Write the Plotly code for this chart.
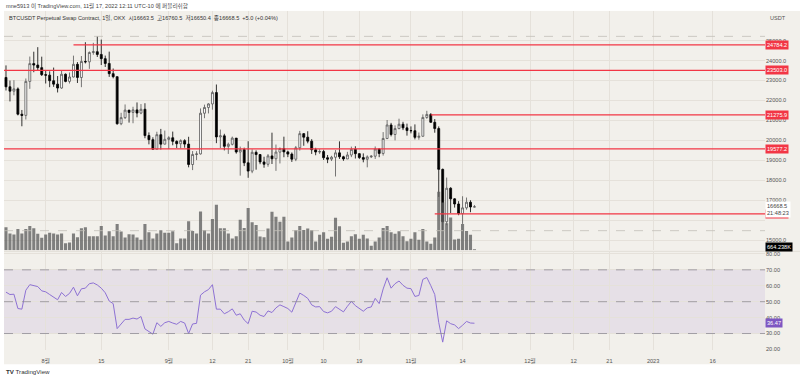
import plotly.graph_objects as go
import pandas as pd

# ---------------- data ----------------
dates = pd.date_range("2022-07-22", periods=119, freq="D")

opens = [23152,22684,22465,22579,21311,21252,22953,23846,23774,23644,
         23293,23269,22988,22818,22622,23312,22954,23175,23810,23150,
         23954,23934,24403,24442,24305,24094,23854,23342,23191,20834,
         21140,21516,21400,21528,21368,21559,20241,20037,19555,20285,
         19812,20050,20131,19951,19832,19986,19813,18790,19293,19320,
         21360,21649,21826,22395,20173,20226,19701,19803,20113,19416,
         19537,18875,18461,19401,19289,18920,18803,19222,19080,19413,
         19592,19423,19311,19057,19630,20337,20158,19961,19530,19417,
         19439,19131,19060,19155,19375,19177,19068,19268,19550,19334,
         19139,19053,19172,19208,19567,19345,20095,20771,20295,20591,
         20809,20627,20491,20483,20151,20207,21148,21299,20905,20591,
         18547,15922,17601,17070,16813,16330,16619,16900,16663.5]
highs = [23756,22996,23014,22655,21523,23100,24200,24443,24670,24194,
         23509,23459,23647,23223,23475,23354,23400,24245,23922,24226,
         24918,24456,24888,25211,25050,24247,24446,23600,23202,21382,
         21800,21522,21684,21900,21819,21860,20399,20156,20433,20575,
         20490,20208,20440,19999,20055,20058,20180,19464,19458,21600,
         21791,21860,22488,22799,20541,20330,19888,20189,20113,19689,
         19634,19956,19550,19500,19316,19180,19315,20385,19790,19645,
         20185,19484,19395,19719,20475,20365,20456,20062,19627,19558,
         19525,19268,19225,19513,19951,19228,19425,19687,19706,19360,
         19347,19250,19257,19695,19601,20415,21020,20877,20750,21085,
         20931,20840,20700,20800,20393,21302,21480,21365,21069,20700,
         18587,18136,17655,17099,16954,17200,17135,17000,16760.5]
lows = [22500,21950,22258,21250,20706,21045,22582,23414,23500,23225,
        22850,22664,22681,22400,22587,22910,22850,23155,22875,22665,
        23853,23583,24291,24179,23775,23676,23180,23107,20783,20761,
        21069,20890,20857,21153,21310,20107,19800,19520,19550,19540,
        19797,19565,19754,19618,19600,19633,18650,18510,19012,19291,
        21111,21350,21538,19860,19617,19497,19320,19748,19335,18232,
        18711,18125,18356,18531,18805,18629,18680,18816,18471,18843,
        19155,19160,18920,18959,19490,19730,19853,19320,19255,19320,
        19020,18860,18965,18190,19070,18975,19063,19161,19091,19069,
        18900,18650,19115,19070,19157,19237,20061,20200,20000,20556,
        20514,20237,20350,20048,20032,20180,21080,20880,20384,17166,
        15476,15754,16361,16631,16250,15815,16527,16400,16650.4]
closes = [22684,22465,22579,21311,21252,22953,23846,23774,23644,23293,
          23269,22988,22818,22622,23312,22954,23175,23810,23150,23954,
          23934,24403,24442,24305,24094,23854,23342,23191,20834,21140,
          21516,21400,21528,21368,21559,20241,20037,19555,20285,19812,
          20050,20131,19951,19832,19986,19813,18790,19293,19320,21360,
          21649,21826,22395,20173,20226,19701,19803,20113,19416,19537,
          18875,18461,19401,19289,18920,18803,19222,19080,19413,19592,
          19423,19311,19057,19630,20337,20158,19961,19530,19417,19439,
          19131,19060,19155,19375,19177,19068,19268,19550,19334,19139,
          19053,19172,19208,19567,19345,20095,20771,20295,20591,20809,
          20627,20491,20483,20151,20207,21148,21299,20905,20591,18547,
          15922,17601,17070,16813,16330,16619,16900,16663,16668.5]
volumes_k = [15150,11050,10400,14100,11050,14100,16050,14500,10850,8250,
             10400,11500,11050,10400,11050,4750,5200,11050,8650,14500,
             15150,9300,9300,9300,16050,9750,12550,9300,17350,12350,
             8450,10600,10400,8450,6950,17350,11900,7800,11050,13200,
             11500,11500,12550,4750,7800,7800,19050,12800,11050,25550,
             13450,11050,20600,29900,14500,14500,11050,7800,9300,20150,
             14750,27750,18400,16700,9100,8650,14300,25350,22100,18850,
             22100,5850,8450,13450,16050,13450,14300,13450,5850,10200,
             11900,7600,8900,21450,15800,5000,5850,9300,10600,7600,
             10200,7800,3050,5850,8450,14750,16050,11900,10850,12550,
             9300,6050,7600,11900,6950,14100,5850,4350,8450,38550,
             31400,17750,21650,7150,7600,17350,12800,10200,664.238]
rsi = [56.0,54.5,54.7,45.7,45.3,57.2,60.7,60.3,59.5,56.8,
       56.2,54.5,52.9,51.2,55.8,53.3,55.2,59.1,53.7,58.1,
       58.5,61.3,61.8,60.5,58.5,55.6,50.4,48.8,33.1,36.0,
       38.9,38.9,39.7,39.1,40.7,32.9,31.4,29.6,36.8,34.5,
       36.8,37.6,36.6,35.8,37.6,36.6,30.0,36.0,36.4,54.1,
       56.2,57.6,60.7,45.3,45.3,42.4,43.7,45.5,41.5,42.4,
       38.5,36.2,44.0,43.5,41.5,40.7,44.2,43.2,46.1,48.0,
       46.9,45.7,43.4,49.6,55.4,53.9,52.1,48.0,46.7,46.9,
       43.8,43.0,44.0,46.9,45.3,43.6,47.1,50.2,47.5,45.5,
       44.0,46.1,46.7,52.1,48.8,58.0,65.0,58.5,61.3,63.0,
       60.3,58.5,58.2,53.3,53.9,64.0,65.2,60.1,54.5,37.0,
       24.6,38.0,36.2,35.4,33.1,35.2,37.6,36.6,36.47]

# drawn horizontal levels: (price, start date or None for full width)
level_prices = [24784.2, 23503.0, 21275.9, 19577.2, 16315.0]
level_starts = ["2022-08-08", None, "2022-11-06", None, "2022-11-07"]
dashed_levels = [25211, 15476]

x_tick_dates = ["2022-08-01", "2022-08-15", "2022-09-01", "2022-09-12", "2022-09-21",
                "2022-10-01", "2022-10-10", "2022-10-19", "2022-11-01", "2022-11-14",
                "2022-12-01", "2022-12-12", "2022-12-21", "2023-01-01", "2023-01-16"]
x_tick_text = ["8월", "15", "9월", "12", "21", "10월", "10", "19", "11월", "14",
               "12월", "12", "21", "2023", "16"]
price_ticks = [15000, 16000, 17000, 18000, 19000, 20000, 21000, 22000, 23000, 24000, 25000]
price_tick_text = ["15000.0", "", "17000.0", "18000.0", "19000.0", "20000.0", "21000.0",
                   "22000.0", "23000.0", "24000.0", "25000.0"]
rsi_ticks = [20, 30, 40, 50, 60, 70, 80]
rsi_bands = [70, 50, 30]

title_top = "mne5913 이 TradingView.com, 11월 17, 2022 12:11 UTC-10 에 퍼블리쉬함"
legend_txt = "BTCUSDT Perpetual Swap Contract, 1일, OKX  시16663.5  고16760.5  저16650.4  종16668.5  +5.0 (+0.04%)"
countdown = "21:48:23"

# ---------------- styling ----------------
W, H = 800, 382
BG = "#f2f0eb"
GRID = "#e5e1da"
RED = "#f23645"
FONT = "Liberation Sans, Noto Sans CJK KR, sans-serif"
FS = 5.6
px = lambda v: v / W
py = lambda v: 1 - v / H

x_dom = [px(4), px(765)]
price_dom = [py(252), py(10)]
rsi_dom = [py(352.3), py(254)]
price_range = [14489, 26487]
vol_range = [0, 157300]
rsi_range = [19.9, 81.0]
x_range = ["2022-07-21 12:00", "2023-01-29 04:20"]

fig = go.Figure()
fig.add_trace(go.Candlestick(
    x=dates, open=opens, high=highs, low=lows, close=closes,
    xaxis="x", yaxis="y", whiskerwidth=0, showlegend=False, hoverinfo="skip",
    increasing=dict(line=dict(color="#555555", width=0.8), fillcolor="#ffffff"),
    decreasing=dict(line=dict(color="#000000", width=0.8), fillcolor="#000000"),
))
fig.add_trace(go.Bar(
    x=dates, y=volumes_k, xaxis="x", yaxis="y3", showlegend=False, hoverinfo="skip",
    marker=dict(color="rgba(95,95,95,0.78)", line=dict(width=0)),
))
fig.add_trace(go.Scatter(
    x=dates, y=rsi, xaxis="x2", yaxis="y2", mode="lines", showlegend=False,
    hoverinfo="skip", line=dict(color="#8d71d3", width=1),
))

shapes = [
    dict(type="rect", xref="paper", yref="paper", x0=px(4), x1=1, y0=py(367), y1=py(10),
         fillcolor=BG, line=dict(width=0), layer="below"),
    dict(type="line", xref="paper", yref="paper", x0=px(4), x1=1, y0=py(253), y1=py(253),
         line=dict(color="#e2ded7", width=1)),
    dict(type="rect", xref="x2 domain", yref="y2", x0=0, x1=1, y0=30, y1=70,
         fillcolor="rgba(126,87,194,0.10)", line=dict(width=0), layer="below"),
]
for b in rsi_bands:
    shapes.append(dict(type="line", xref="x2 domain", yref="y2", x0=0, x1=1, y0=b, y1=b,
                       line=dict(color="#8f8c96", width=0.8, dash="dash")))
for lv in dashed_levels:
    shapes.append(dict(type="line", xref="x domain", yref="y", x0=0, x1=1, y0=lv, y1=lv,
                       line=dict(color="#c3bfb8", width=0.8, dash="dash")))
for p, s in zip(level_prices, level_starts):
    if s is None:
        shapes.append(dict(type="line", xref="x domain", yref="y", x0=0, x1=1, y0=p, y1=p,
                           line=dict(color=RED, width=1.2)))
    else:
        shapes.append(dict(type="line", xref="x", yref="y", x0=s, x1=x_range[1], y0=p, y1=p,
                           line=dict(color=RED, width=1.2)))

ann = []
for p in level_prices:
    ann.append(dict(xref="paper", yref="y", x=px(765), y=p, xanchor="left", yanchor="middle",
                    text=f"{p:.1f}", showarrow=False, bgcolor=RED, borderpad=1,
                    font=dict(family=FONT, size=FS, color="#ffffff")))
ann.append(dict(xref="paper", yref="y", x=px(765), y=closes[-1], xanchor="left", yanchor="middle",
                yshift=-3, text=f"{closes[-1]:.1f}<br>{countdown}", showarrow=False,
                bgcolor="#ffffff", borderpad=1, align="left",
                font=dict(family=FONT, size=FS, color="#444444")))
ann.append(dict(xref="paper", yref="paper", x=px(765), y=py(248.5), xanchor="left", yanchor="middle",
                text=f"{volumes_k[-1]:.3f}K", showarrow=False, bgcolor="#000000", borderpad=1,
                font=dict(family=FONT, size=FS, color="#ffffff")))
ann.append(dict(xref="paper", yref="y2", x=px(765), y=rsi[-1], xanchor="left", yanchor="middle",
                text=f"{rsi[-1]:.2f}", showarrow=False, bgcolor="#7e57c2", borderpad=1,
                font=dict(family=FONT, size=FS, color="#ffffff")))
ann.append(dict(xref="paper", yref="paper", x=px(768), y=py(17), xanchor="left", yanchor="middle",
                text="USDT", showarrow=False, font=dict(family=FONT, size=FS, color="#555555")))
ann.append(dict(xref="paper", yref="paper", x=px(4), y=py(5), xanchor="left", yanchor="middle",
                text=title_top, showarrow=False, font=dict(family=FONT, size=FS, color="#444444")))
ann.append(dict(xref="paper", yref="paper", x=px(7), y=py(17), xanchor="left", yanchor="middle",
                text=legend_txt, showarrow=False, font=dict(family=FONT, size=FS, color="#333333")))
ann.append(dict(xref="paper", yref="paper", x=px(4), y=py(374), xanchor="left", yanchor="middle",
                text="<b>TV</b> TradingView", showarrow=False,
                font=dict(family=FONT, size=FS + 0.6, color="#333333")))

axis_common = dict(showline=False, zeroline=False, ticks="", gridcolor=GRID, gridwidth=1,
                   tickfont=dict(family=FONT, size=FS, color="#555555"), fixedrange=True)

fig.update_layout(
    width=W, height=H, margin=dict(l=0, r=0, t=0, b=0),
    paper_bgcolor="#ffffff", plot_bgcolor=BG, bargap=0.22,
    font=dict(family=FONT, size=FS),
    xaxis=dict(domain=x_dom, range=x_range, anchor="y", matches="x2", type="date",
               tickvals=x_tick_dates, showticklabels=False, showgrid=True,
               rangeslider=dict(visible=False), **axis_common),
    xaxis2=dict(domain=x_dom, range=x_range, anchor="y2", type="date",
                tickvals=x_tick_dates, ticktext=x_tick_text, showgrid=True,
                ticklabelstandoff=7, **axis_common),
    yaxis=dict(domain=price_dom, range=price_range, side="right", anchor="x",
               tickvals=price_ticks, ticktext=price_tick_text, showgrid=True, **axis_common),
    yaxis3=dict(overlaying="y", range=vol_range, visible=False, fixedrange=True),
    yaxis2=dict(domain=rsi_dom, range=rsi_range, side="right", anchor="x2",
                tickvals=rsi_ticks, ticktext=[f"{v:.2f}" for v in rsi_ticks],
                showgrid=True, **axis_common),
    shapes=shapes, annotations=ann,
)

fig.write_html("out.html", config={"displayModeBar": False, "staticPlot": True},
               post_script="document.body.style.margin='0px';")
